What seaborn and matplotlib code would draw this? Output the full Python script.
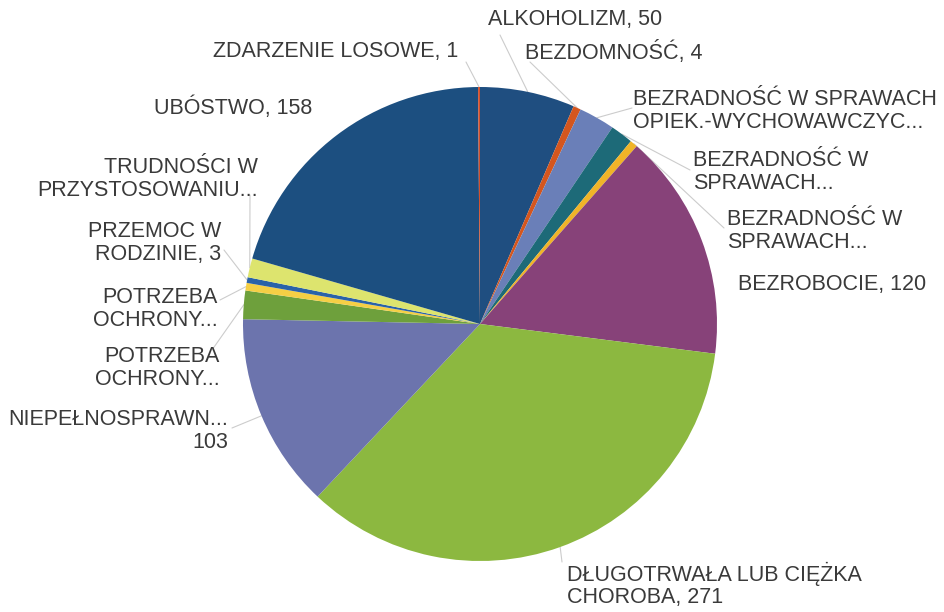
import numpy as np
import matplotlib.pyplot as plt
import seaborn as sns

# dane z wykresu (kolejnosc zgodnie z ruchem wskazowek zegara od godziny 12)
etykiety = [
    'ALKOHOLIZM, 50',
    'BEZDOMNOŚĆ, 4',
    'BEZRADNOŚĆ W SPRAWACH\nOPIEK.-WYCHOWAWCZYC...',
    'BEZRADNOŚĆ W\nSPRAWACH...',
    'BEZRADNOŚĆ W\nSPRAWACH...',
    'BEZROBOCIE, 120',
    'DŁUGOTRWAŁA LUB CIĘŻKA\nCHOROBA, 271',
    'NIEPEŁNOSPRAWN...\n103',
    'POTRZEBA\nOCHRONY...',
    'POTRZEBA\nOCHRONY...',
    'PRZEMOC W\nRODZINIE, 3',
    'TRUDNOŚCI W\nPRZYSTOSOWANIU...',
    'UBÓSTWO, 158',
    'ZDARZENIE LOSOWE, 1',
]
wartosci = [50, 4, 19, 12, 4, 120, 271, 103, 15, 4, 3, 10, 158, 1]
kolory = ['#1f4e80', '#d4561e', '#6a7fb8', '#1d6a78', '#f0b428', '#874279', '#8cb840',
          '#6c74ad', '#6ea03c', '#f5cf45', '#2a62a8', '#dde46e', '#1c4f80', '#d2502c']

# rozmieszczenie podpisow (piksele: x, y, wyrownanie) i poczatki linii odniesienia
poz = [(488, 20, 'left'), (525, 52, 'left'), (633, 111, 'left'), (693, 172, 'left'),
       (727, 231, 'left'), (738, 285, 'left'), (567, 585, 'left'), (228, 431, 'right'),
       (220, 368, 'right'), (218, 309, 'right'), (221, 243, 'right'), (258, 179, 'right'),
       (312, 108, 'right'), (458, 52, 'right')]
linie = [(500, 35), (530, 62), (632, 108), (690, 170), (724, 228), None, (562, 562),
         (232, 428), (212, 350), (220, 300), (224, 250), (250, 195), None, (466, 62)]

sns.set_style('white')
plt.rcParams['font.family'] = ['Liberation Sans', 'DejaVu Sans']

W, H = 945, 612
cx, cy, R = 480, 324, 237

fig = plt.figure(figsize=(9.45, 6.12), dpi=100)
ax = fig.add_axes([0, 0, 1, 1])
wedges, _ = ax.pie(wartosci, colors=kolory, startangle=90, counterclock=False,
                   radius=1, wedgeprops=dict(linewidth=0))
ax.set_xlim(-cx / R, (W - cx) / R)
ax.set_ylim(-(H - cy) / R, cy / R)
ax.set_aspect('equal')
ax.axis('off')


def px(x, y):
    return (x - cx) / R, (cy - y) / R


for i, w in enumerate(wedges):
    tx, ty, ha = poz[i]
    ax.text(*px(tx, ty), etykiety[i], ha=ha, va='center', fontsize=15.5,
            color='#3a3a3a', multialignment=ha, linespacing=1.1)
    if linie[i] is not None:
        kat = np.deg2rad((w.theta1 + w.theta2) / 2)
        sx, sy = px(*linie[i])
        ax.plot([sx, np.cos(kat)], [sy, np.sin(kat)], color='#cccccc', lw=0.8, zorder=0)

fig.savefig('out.png', dpi=100)
